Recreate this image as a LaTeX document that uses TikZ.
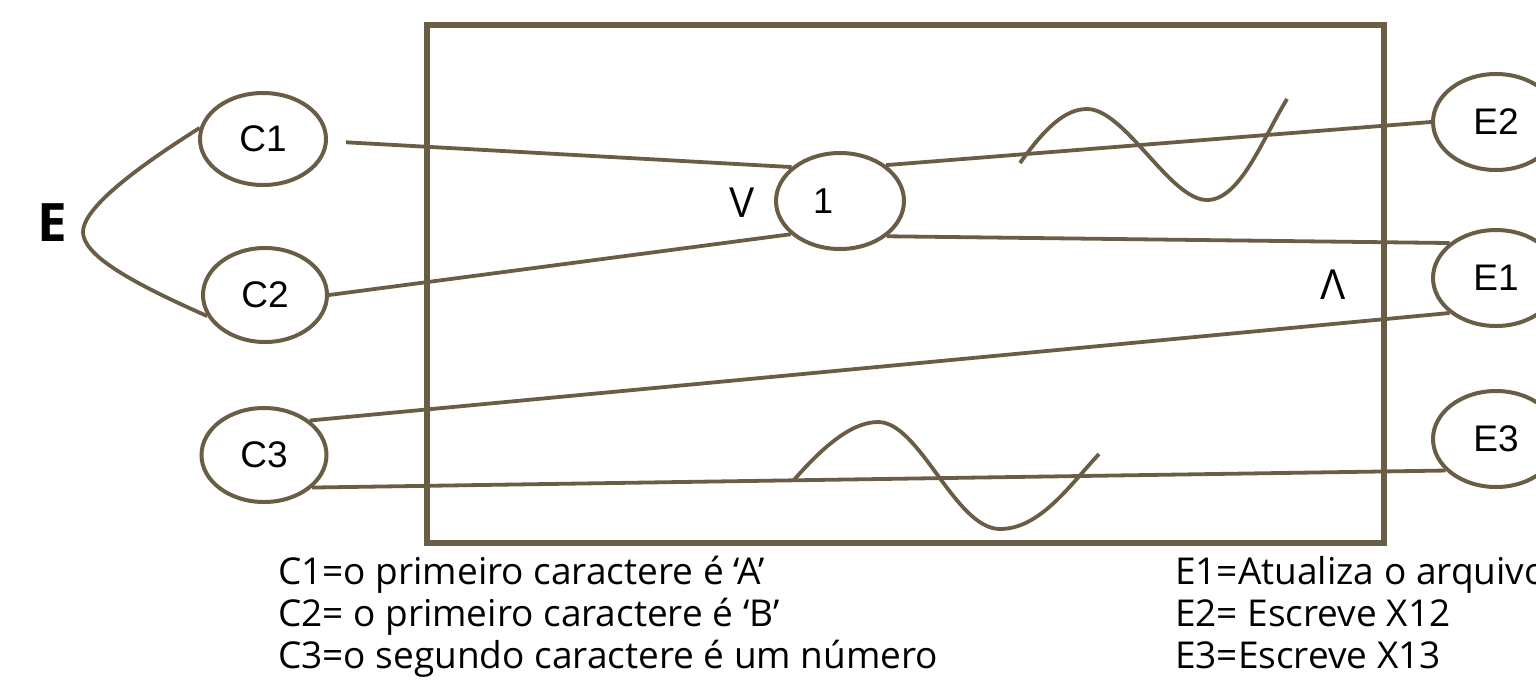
\documentclass[tikz,border=0pt]{standalone}
\usepackage{fontspec}
\usetikzlibrary{shapes.geometric}
\newfontfamily\osans{Open Sans}
\newfontfamily\arialf{Liberation Sans}
\definecolor{linec}{HTML}{6A5D45}
\tikzset{
  ell/.style={ellipse, draw=linec, line width=4pt, inner sep=0pt,
    minimum width=126pt, minimum height=94pt,
    font=\arialf\fontsize{37}{40}\selectfont},
  conn/.style={draw=linec, line width=3.8pt},
  wave/.style={draw=linec, line width=3.8pt},
  legend/.style={anchor=base west, inner sep=0pt, text=black,
    font=\osans\fontsize{37}{42}\selectfont},
  logic/.style={inner sep=0pt, xscale=0.88,
    font=\arialf\fontsize{43}{46}\selectfont}
}
\begin{document}
\begin{tikzpicture}[x=1pt, y=-1pt]
\useasboundingbox (0,0) rectangle (1536,681);
\clip (0,0) rectangle (1536,681);
% main box
\draw[draw=linec, line width=6.5pt] (427,25) rectangle (1384,543);
% nodes
\node[ell, minimum width=126pt, minimum height=92pt] (c1) at (263,139) {C1};
\node[ell, minimum width=124pt, minimum height=94pt] (c2) at (265,295) {C2};
\node[ell, minimum width=125pt, minimum height=94pt] (c3) at (264,455) {C3};
\node[ell, minimum width=128pt, minimum height=96pt,
      font=\arialf\fontsize{36}{40}\selectfont] (n1) at (840,201) {\hspace*{-34pt}1};
\node[ell, minimum width=126pt, minimum height=96pt] (e2) at (1496,122) {E2};
\node[ell, minimum width=126pt, minimum height=96pt] (e1) at (1496,278) {E1};
\node[ell, minimum width=126pt, minimum height=96pt] (e3) at (1496,439) {E3};
% labels
\node[inner sep=0pt, font=\osans\bfseries\fontsize{53}{56}\selectfont] (elabel) at (52,223) {E};
\node[logic] (orlabel) at (742,202.5) {V};
\node[logic] (andlabel) at (1333,284.5) {Λ};
% brace
\draw[conn] (c1.170) .. controls (120,178) and (83,212) .. (83,232)
            .. controls (83,255) and (130,282) .. (c2.200);
% connectors
\draw[conn, shorten <=18pt] (c1.-2) -- (n1.145);
\draw[conn] (c2.0) -- (n1.214);
\draw[conn] (n1.38) -- (e2.west);
\draw[conn] (n1.-37) -- (e1.143);
\draw[conn] (c3.37) -- (e1.217);
\draw[conn] (c3.-34) -- (e3.212);
% waves
\draw[wave] (1020,163) .. controls (1045,128) and (1065,109) .. (1087,109)
            .. controls (1125,109) and (1170,200) .. (1207,200)
            .. controls (1240,200) and (1262,140) .. (1287,99);
\draw[wave] (793,481) .. controls (820,450) and (850,422) .. (878,422)
            .. controls (920,422) and (955,529) .. (1000,529)
            .. controls (1040,529) and (1070,485) .. (1099,454);
% legends
\node[legend] (lc1) at (278,584) {C1=o primeiro caractere é ‘A’};
\node[legend] (lc2) at (278,626) {C2= o primeiro caractere é ‘B’};
\node[legend] (lc3) at (278,668) {C3=o segundo caractere é um número};
\node[legend] (le1) at (1175,584) {E1=Atualiza o arquivo};
\node[legend] (le2) at (1175,626) {E2= Escreve X12};
\node[legend] (le3) at (1175,668) {E3=Escreve X13};
\end{tikzpicture}
\end{document}
